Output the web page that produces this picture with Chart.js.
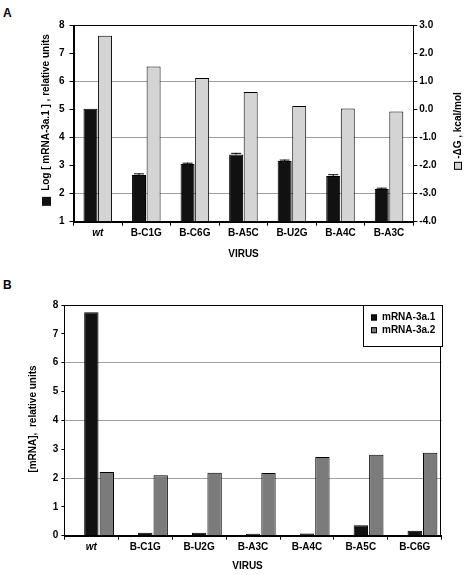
<!DOCTYPE html>
<html>
<head>
<meta charset="utf-8">
<script src="https://cdn.jsdelivr.net/npm/chart.js@4/dist/chart.umd.min.js"></script>
<style>
  body { margin: 0; background: #fff; width: 465px; height: 575px; overflow: hidden; position: relative; }
  canvas { position: absolute; left: 0; }
  #chartA { top: 0; }
  #chartB { top: 272px; }
  .panel { position: absolute; left: 3px; font: bold 12px "Liberation Sans", Arial, sans-serif; color: #000; }
</style>
</head>
<body>
<div class="panel" style="top:6px">A</div>
<div class="panel" style="top:278px">B</div>
<canvas id="chartA" width="465" height="272"></canvas>
<canvas id="chartB" width="465" height="303"></canvas>

<script>
// ---- data: panel A ----
const virusesA   = ['wt', 'B-C1G', 'B-C6G', 'B-A5C', 'B-U2G', 'B-A4C', 'B-A3C'];
const logMrnaA   = [5.02, 2.66, 3.05, 3.39, 3.16, 2.63, 2.16];
const logMrnaErr = [0, 0.06, 0.05, 0.06, 0.05, 0.06, 0.05];
const deltaGA    = [2.62, 1.52, 1.11, 0.62, 0.12, 0.03, -0.08];

// ---- data: panel B ----
const virusesB = ['wt', 'B-C1G', 'B-U2G', 'B-A3C', 'B-A4C', 'B-A5C', 'B-C6G'];
const mrna31B  = [7.75, 0.10, 0.10, 0.07, 0.08, 0.36, 0.17];
const mrna32B  = [2.21, 2.10, 2.18, 2.17, 2.73, 2.81, 2.88];

const FONT = '"Liberation Sans", Arial, sans-serif';
const tickFont = { family: FONT, size: 10, weight: 'bold' };
const BLACK = '#111111';
const LIGHT = '#d4d4d4';
const MID   = '#7b7b7b';

// only even values get a gridline, like the original
const evenGrid = ctx => {
  const v = ctx.tick && ctx.tick.value;
  return (v % 2 === 0 && v !== ctx.scale.max && v !== ctx.scale.min) ? '#a0a0a0' : 'rgba(0,0,0,0)';
};

function drawTitle(ctx, t) {
  ctx.save();
  ctx.font = `bold ${t.size || 10}px ${FONT}`;
  ctx.translate(t.x, t.y);
  if (t.rotate) ctx.rotate(-Math.PI / 2);
  const sq = t.swatch ? t.swatch.size : 0;
  const gap = t.swatch ? t.swatch.gap : 0;
  const tw = ctx.measureText(t.text).width;
  let x0 = -(sq + gap + tw) / 2;
  if (t.swatch) {
    ctx.fillStyle = t.swatch.color;
    ctx.fillRect(x0, -sq / 2, sq, sq);
    if (t.swatch.stroke) {
      ctx.strokeStyle = '#000';
      ctx.lineWidth = 1;
      ctx.strokeRect(x0 + 0.5, -sq / 2 + 0.5, sq - 1, sq - 1);
    }
    x0 += sq + gap;
  }
  ctx.fillStyle = '#000';
  ctx.textBaseline = 'middle';
  ctx.textAlign = 'left';
  ctx.fillText(t.text, x0, 0);
  ctx.restore();
}

// frame, error bars, axis titles and the inset legend
const decor = {
  id: 'decor',
  afterDatasetsDraw(chart, args, opts) {
    const { ctx, chartArea: a } = chart;
    ctx.save();
    ctx.strokeStyle = '#000';
    ctx.lineWidth = 1;
    ctx.strokeRect(Math.round(a.left) + 0.5, Math.round(a.top) + 0.5,
                   Math.round(a.width) - 1, Math.round(a.height));

    if (opts.errors) {
      const meta = chart.getDatasetMeta(opts.errors.dataset);
      const ys = chart.scales[meta.yAxisID];
      const vals = chart.data.datasets[opts.errors.dataset].data;
      meta.data.forEach((bar, i) => {
        const e = opts.errors.values[i];
        if (!e) return;
        const top = ys.getPixelForValue(vals[i] + e);
        ctx.beginPath();
        ctx.moveTo(bar.x, bar.y);
        ctx.lineTo(bar.x, top);
        ctx.moveTo(bar.x - 5, top + 0.5);
        ctx.lineTo(bar.x + 5, top + 0.5);
        ctx.stroke();
      });
    }

    (opts.titles || []).forEach(t => drawTitle(ctx, t));

    if (opts.legend) {
      const L = opts.legend;
      const x0 = Math.round(a.right) - L.width;
      const y0 = Math.round(a.top);
      ctx.fillStyle = '#fff';
      ctx.fillRect(x0, y0, L.width, L.height);
      ctx.strokeRect(x0 + 0.5, y0 + 0.5, L.width, L.height);
      ctx.font = `bold 10px ${FONT}`;
      ctx.textBaseline = 'middle';
      let y = y0 + L.first;
      chart.data.datasets.forEach(ds => {
        if (ds.spacer) return;
        ctx.fillStyle = ds.backgroundColor;
        ctx.fillRect(x0 + 8, y - 3, 6, 6);
        ctx.strokeRect(x0 + 8.5, y - 2.5, 5, 5);
        ctx.fillStyle = '#000';
        ctx.fillText(ds.label, x0 + 19, y);
        y += L.step;
      });
    }
    ctx.restore();
  }
};

// ---------------- panel A ----------------
new Chart(document.getElementById('chartA'), {
  type: 'bar',
  data: {
    labels: virusesA,
    datasets: [
      { label: 'Log [ mRNA-3a.1 ]', data: logMrnaA, yAxisID: 'y',
        backgroundColor: BLACK, borderColor: '#000', borderWidth: 1 },
      { label: '-ΔG', data: deltaGA, yAxisID: 'y2', base: -4,
        backgroundColor: LIGHT, borderColor: '#000', borderWidth: 1 }
    ]
  },
  options: {
    responsive: false,
    animation: false,
    layout: { padding: { top: 25, left: 0, right: 0, bottom: 0 } },
    categoryPercentage: 0.6,
    barPercentage: 0.96,
    plugins: {
      legend: { display: false },
      tooltip: { enabled: false },
      decor: {
        errors: { dataset: 0, values: logMrnaErr },
        titles: [
          { text: 'Log [ mRNA-3a.1 ] , relative units', x: 46.5, y: 120, rotate: true,
            swatch: { size: 9, gap: 6, color: BLACK } },
          { text: '-ΔG , kcal/mol', x: 458, y: 131, rotate: true,
            swatch: { size: 8, gap: 3, color: LIGHT, stroke: true } },
          { text: 'VIRUS', x: 243.5, y: 254 }
        ]
      }
    },
    scales: {
      x: {
        grid: { offset: true, drawOnChartArea: false, tickColor: '#000', tickLength: 4 },
        border: { color: '#000' },
        ticks: {
          color: '#000', padding: 2, maxRotation: 0, autoSkip: false,
          font: c => ({ family: FONT, size: 10, weight: 'bold', style: c.index === 0 ? 'italic' : 'normal' })
        },
        afterFit: s => { s.height = 50.3; }
      },
      y: {
        position: 'left', min: 1, max: 8,
        ticks: { stepSize: 1, color: '#000', font: tickFont, padding: 5 },
        grid: { color: evenGrid, tickColor: '#000', tickLength: 4 },
        border: { color: '#000' },
        afterFit: s => { s.width = 73.5; }
      },
      y2: {
        position: 'right', min: -4, max: 3,
        ticks: { stepSize: 1, color: '#000', font: tickFont, padding: 2, callback: v => v.toFixed(1) },
        grid: { drawOnChartArea: false, tickColor: '#000', tickLength: 4 },
        border: { color: '#000' },
        afterFit: s => { s.width = 51.7; }
      }
    }
  },
  plugins: [decor]
});

// ---------------- panel B ----------------
new Chart(document.getElementById('chartB'), {
  type: 'bar',
  data: {
    labels: virusesB,
    datasets: [
      // empty slot: the original groups sit right of the category centre
      { label: '', data: [], spacer: true, backgroundColor: '#fff' },
      { label: 'mRNA-3a.1', data: mrna31B, backgroundColor: BLACK, borderColor: '#000', borderWidth: 1 },
      { label: 'mRNA-3a.2', data: mrna32B, backgroundColor: MID, borderColor: '#000', borderWidth: 1 }
    ]
  },
  options: {
    responsive: false,
    animation: false,
    layout: { padding: { top: 33, left: 0, right: 23.3, bottom: 0 } },
    categoryPercentage: 0.86,
    barPercentage: 0.93,
    plugins: {
      legend: { display: false },
      tooltip: { enabled: false },
      decor: {
        titles: [
          { text: '[mRNA],  relative units', x: 33, y: 147, rotate: true },
          { text: 'VIRUS', x: 247.5, y: 294.5 }
        ],
        legend: { width: 79, height: 41, first: 12.5, step: 12.7 }
      }
    },
    scales: {
      x: {
        grid: { offset: true, drawOnChartArea: false, tickColor: '#000', tickLength: 4 },
        border: { color: '#000' },
        ticks: {
          color: '#000', padding: 2, maxRotation: 0, autoSkip: false,
          font: c => ({ family: FONT, size: 10, weight: 'bold', style: c.index === 0 ? 'italic' : 'normal' })
        },
        afterFit: s => { s.height = 39.3; }
      },
      y: {
        min: 0, max: 8,
        ticks: { stepSize: 1, color: '#000', font: tickFont, padding: 3 },
        grid: { color: evenGrid, tickColor: '#000', tickLength: 3 },
        border: { color: '#000' },
        afterFit: s => { s.width = 64.4; }
      }
    }
  },
  plugins: [decor]
});
</script>
</body>
</html>
